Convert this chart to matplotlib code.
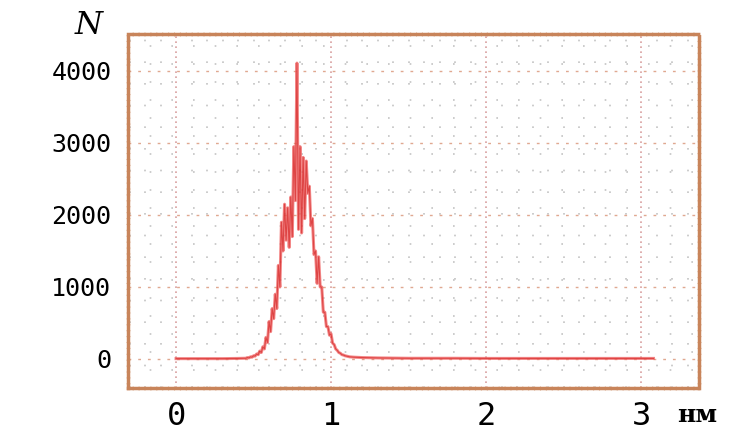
import numpy as np
import matplotlib
matplotlib.use("Agg")
from matplotlib import pyplot as plt

# size distribution
x_nm = [0.0, 0.2, 0.3, 0.4, 0.44,
        0.45, 0.46, 0.47, 0.48, 0.49, 0.50, 0.51, 0.52, 0.53, 0.54,
        0.55, 0.56, 0.57, 0.58, 0.59, 0.60, 0.61, 0.62, 0.63, 0.64,
        0.65, 0.66, 0.67, 0.68, 0.69, 0.70, 0.71, 0.72, 0.73, 0.74,
        0.75, 0.76, 0.77, 0.78, 0.79, 0.80, 0.81, 0.82, 0.83, 0.84,
        0.85, 0.86, 0.87, 0.88, 0.89, 0.90, 0.91, 0.92, 0.93, 0.94,
        0.95, 0.96, 0.97, 0.98, 0.99, 1.00, 1.01, 1.02, 1.03, 1.04,
        1.05, 1.06, 1.07, 1.08, 1.09, 1.10, 1.12, 1.15,
        1.2, 1.3, 1.5, 1.8, 2.0, 2.5, 3.0, 3.08]
counts = [5, 5, 5, 8, 10,
          10, 20, 15, 30, 25, 45, 40, 70, 60, 110,
          90, 170, 140, 300, 230, 520, 380, 700, 560, 900,
          700, 1300, 1000, 1900, 1500, 2150, 1650, 2100, 1550, 2250,
          1700, 2950, 2200, 4110, 1800, 2950, 1750, 2800, 1950, 2750,
          2300, 2400, 1850, 1950, 1450, 1500, 1050, 1420, 1000, 1000,
          650, 650, 450, 450, 330, 350, 220, 200, 140, 120,
          90, 80, 60, 55, 45, 40, 30, 25,
          20, 15, 10, 10, 8, 8, 8, 8]

xticks = [0, 1, 2, 3]
xlabels = ['0', '1', '2', '3']
yticks = [0, 1000, 2000, 3000, 4000]

fig = plt.figure(figsize=(7.39, 4.33), dpi=100)
ax = fig.add_axes([0.1732, 0.1039, 0.7727, 0.8176])

# faint dotted lattice
ax.set_xticks(np.arange(-0.3, 3.4, 0.1), minor=True)
ax.set_yticks(np.arange(-400, 4500, 250), minor=True)
ax.grid(which='minor', color='#c4c4c4', linestyle=(0, (1, 12)), linewidth=1.2)
ax.grid(which='major', axis='y', color='#e0a890', linestyle=(0, (2, 5)), linewidth=1)
ax.grid(which='major', axis='x', color='#d8a0a0', linestyle=(0, (1, 2)), linewidth=1.2)

ax.plot(x_nm, counts, color='#f06060', linewidth=2.2, alpha=0.75)
ax.plot(x_nm, counts, color='#d01818', linewidth=0.8, alpha=0.6)

ax.set_xlim(-0.31, 3.374)
ax.set_ylim(-403, 4514)
ax.set_xticks(xticks)
ax.set_xticklabels(xlabels)
ax.set_yticks(yticks)
ax.set_yticklabels([str(v) for v in yticks])
ax.tick_params(which='both', length=0)
ax.tick_params(axis='x', pad=9, labelsize=23)
ax.tick_params(axis='y', pad=12, labelsize=18)
for lab in ax.get_xticklabels() + ax.get_yticklabels():
    lab.set_family('DejaVu Sans Mono')

for s in ax.spines.values():
    s.set_color('#c8845a')
    s.set_linewidth(2.5)
    s.set_linestyle((0, (1, 0.7)))

fig.text(89 / 739, 1 - 25 / 433, 'N', fontsize=23, family='DejaVu Serif',
         style='italic', ha='center', va='center')
fig.text(697 / 739, 1 - 415 / 433, 'нм', fontsize=18, family='DejaVu Serif',
         weight='bold', ha='center', va='center')

fig.savefig('out.png', dpi=100)
